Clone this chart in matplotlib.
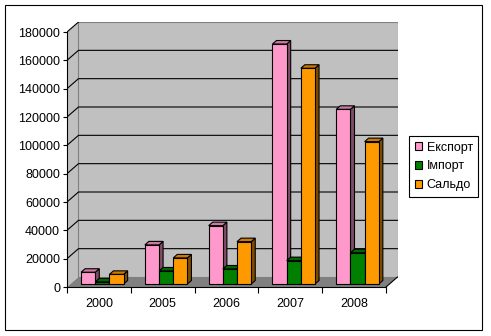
import matplotlib
matplotlib.use("Agg")
from matplotlib import pyplot as plt
from matplotlib.patches import Patch, Rectangle, Polygon
import numpy as np

plt.rcParams['font.family'] = ['Liberation Sans', 'DejaVu Sans']
plt.rcParams['font.size'] = 9

years = ['2000', '2005', '2006', '2007', '2008']
export = [8300, 27600, 41200, 169400, 123300]
imports = [1500, 9200, 10600, 16500, 22100]
saldo = [6800, 18400, 29900, 152300, 100500]
labels = ['Експорт', 'Імпорт', 'Сальдо']
colors = ['#FF99CC', '#008000', '#FF9900']

ymax = 180000
n = len(years)
dx, dy = 0.18, 7060          # depth of the box in data units
f0, f1 = 0.3, 0.65           # bar front/back as fraction of depth
w = 1 / 4.5                  # bar width (gap 150%)
lw = 0.8


def shade(c, k):
    r, g, b = matplotlib.colors.to_rgb(c)
    return (r * k, g * k, b * k)


fig = plt.figure(figsize=(4.91, 3.36), dpi=100)
ax = fig.add_axes([67 / 491, 49 / 336, 330.5 / 491, 265 / 336])
ax.set_xlim(0, n + dx)
ax.set_ylim(0, ymax + dy)
ax.patch.set_visible(False)

# walls and floor
ax.add_patch(Polygon([(0, 0), (dx, dy), (dx, ymax + dy), (0, ymax)],
                     facecolor='#C0C0C0', edgecolor='none', zorder=1))
ax.add_patch(Polygon([(dx, dy), (n + dx, dy), (n + dx, ymax + dy), (dx, ymax + dy)],
                     facecolor='#C0C0C0', edgecolor='#808080', lw=lw, zorder=1))
ax.add_patch(Polygon([(0, 0), (n, 0), (n + dx, dy), (dx, dy)],
                     facecolor='#808080', edgecolor='none', zorder=2))

for v in range(20000, ymax, 20000):
    ax.plot([0, dx, n + dx], [v, v + dy, v + dy], color='black', lw=lw, zorder=3)
ax.plot([0, dx], [ymax, ymax + dy], color='black', lw=lw, zorder=3)
ax.plot([n, n + dx], [0, dy], color='black', lw=lw, zorder=3)

# bars
ddx, ddy = (f1 - f0) * dx, (f1 - f0) * dy
z = 5
for c in range(n):
    for i, series in enumerate([export, imports, saldo]):
        v = series[c]
        x0 = c + (1 - 3 * w) / 2 + i * w + f0 * dx
        y0 = f0 * dy
        col = colors[i]
        ax.add_patch(Polygon([(x0 + w, y0), (x0 + w, y0 + v), (x0 + w + ddx, y0 + v + ddy),
                              (x0 + w + ddx, y0 + ddy)],
                             facecolor=shade(col, 0.5), edgecolor='black', lw=lw, zorder=z))
        ax.add_patch(Polygon([(x0, y0 + v), (x0 + w, y0 + v), (x0 + w + ddx, y0 + v + ddy),
                              (x0 + ddx, y0 + v + ddy)],
                             facecolor=shade(col, 0.8), edgecolor='black', lw=lw, zorder=z))
        ax.add_patch(Rectangle((x0, y0), w, v, facecolor=col, edgecolor='black',
                               lw=lw, zorder=z))
        z += 1

# axes
for s in ['top', 'right']:
    ax.spines[s].set_visible(False)
ax.spines['left'].set_bounds(0, ymax)
ax.spines['bottom'].set_bounds(0, n)
ax.spines['left'].set_linewidth(lw)
ax.spines['bottom'].set_linewidth(lw)
ax.spines['left'].set_zorder(30)
ax.spines['bottom'].set_zorder(30)
ax.set_yticks(range(0, ymax + 1, 20000))
ax.set_yticklabels([str(v) for v in range(0, ymax + 1, 20000)])
ax.set_xticks(np.arange(n + 1))
ax.set_xticklabels([])
ax.set_xticks(np.arange(n) + 0.5, minor=True)
ax.set_xticklabels(years, minor=True)
ax.tick_params(axis='y', length=3, width=lw, pad=2)
ax.tick_params(axis='x', which='major', length=4, width=lw)
ax.tick_params(axis='x', which='minor', length=0, pad=8)

handles = [Patch(facecolor=c, edgecolor='black', lw=lw) for c in colors]
leg = fig.legend(handles, labels, loc='upper left', bbox_to_anchor=(409 / 491, 1 - 136 / 336),
                 handlelength=0.6, handleheight=0.6, handletextpad=0.35, borderpad=0.45,
                 labelspacing=0.55, borderaxespad=0, fancybox=False, framealpha=1,
                 edgecolor='black')
leg.get_frame().set_linewidth(lw)

fig.patches.append(Rectangle((5 / 491, 6 / 336), 477 / 491, 325 / 336, transform=fig.transFigure,
                             fill=False, edgecolor='black', lw=lw))

fig.savefig('out.png', dpi=100)
